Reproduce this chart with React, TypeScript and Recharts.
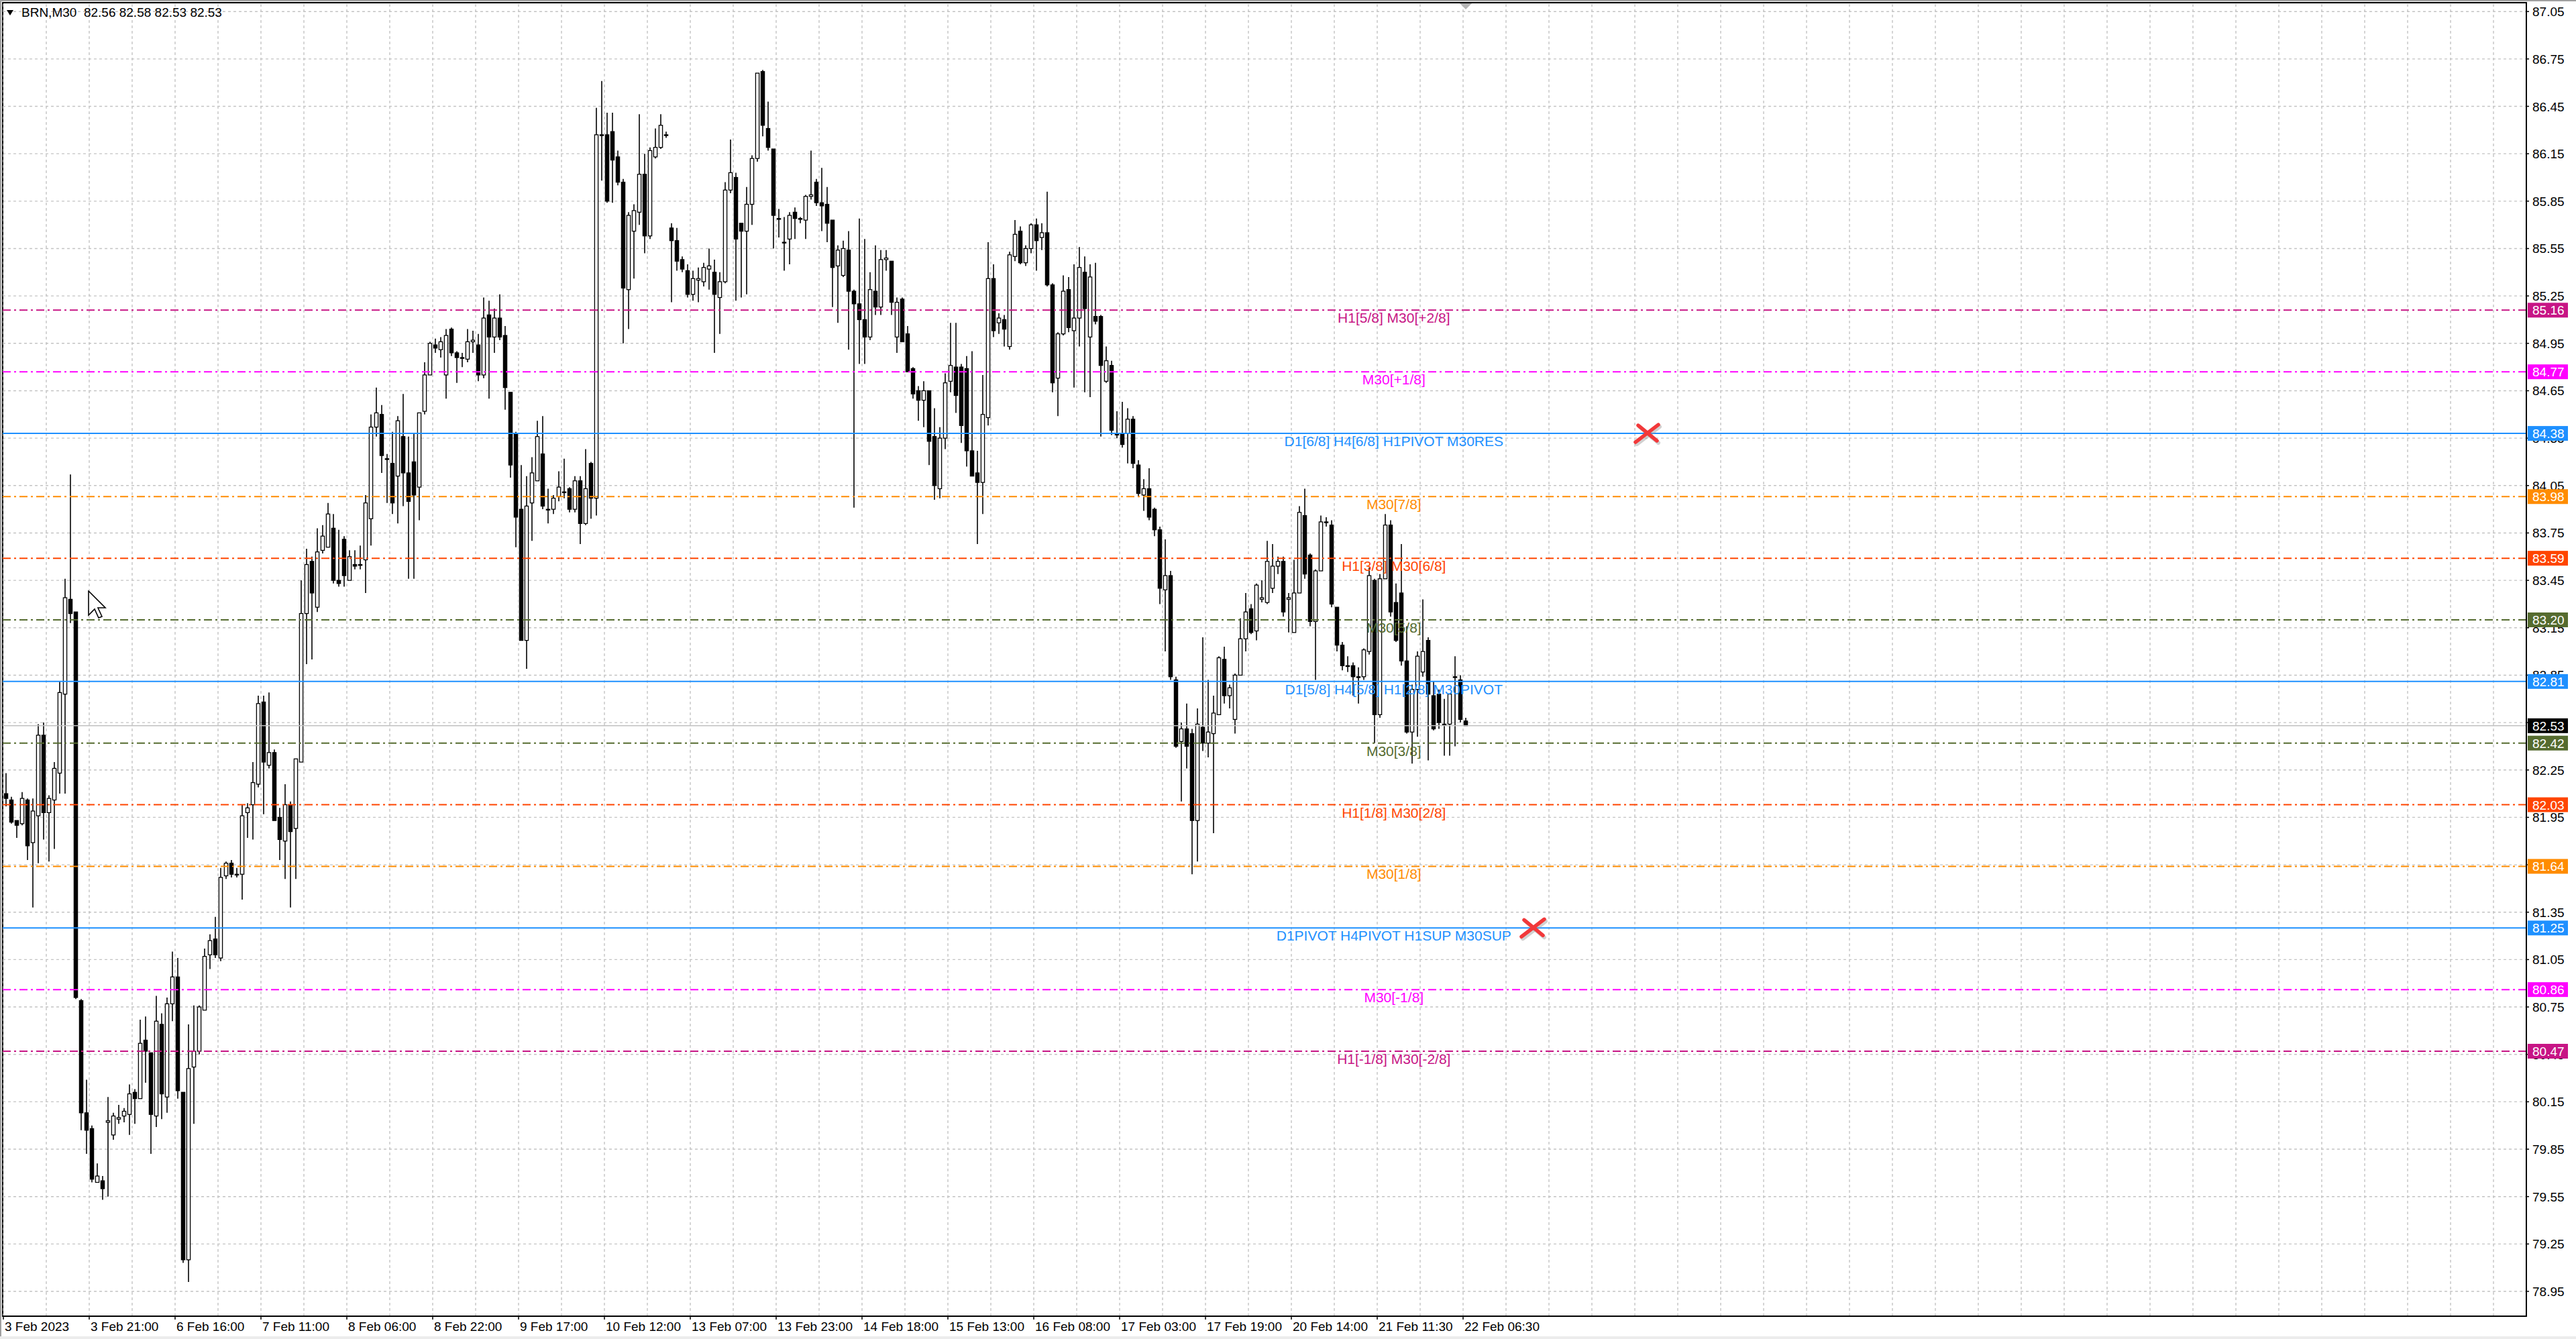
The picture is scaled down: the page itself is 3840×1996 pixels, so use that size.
import React from "react";
import {
  ComposedChart,
  Bar,
  XAxis,
  YAxis,
  CartesianGrid,
  ReferenceLine,
  ReferenceDot,
  ReferenceArea,
} from "recharts";

// BRN,M30 - one entry per pair of M30 candles
const opens = [
  82.10, 82.06, 81.93, 81.91, 82.06, 81.79, 81.96, 82.47, 81.98, 82.06,
  82.23, 82.73, 83.33, 83.25, 80.79, 80.08, 79.98, 79.64, 79.65, 80.02,
  79.94, 80.04, 80.06, 80.07, 80.21, 80.17, 80.54, 80.46, 80.06, 80.64,
  80.18, 80.77, 80.94, 80.21, 79.15, 80.37, 80.47, 80.73, 81.08, 81.18,
  81.06, 81.58, 81.66, 81.59, 81.59, 81.98, 82.03, 82.16, 82.68, 82.28,
  82.36, 81.95, 81.80, 82.03, 81.88, 82.30, 83.24, 83.57, 83.28, 83.64,
  83.66, 83.78, 83.45, 83.71, 83.45, 83.55, 83.55, 83.58, 83.84, 84.42,
  84.50, 84.22, 84.19, 84.11, 84.36, 84.13, 84.20, 84.04, 84.52, 84.75,
  84.94, 84.91, 84.75, 85.04, 84.89, 84.86, 84.85, 84.96, 84.94, 84.75,
  85.13, 84.99, 85.11, 85.00, 84.64, 84.38, 83.90, 83.07, 83.94, 84.08,
  84.25, 83.90, 83.90, 83.98, 84.01, 84.03, 83.90, 84.08, 83.81, 84.19,
  83.97, 86.27, 86.27, 86.29, 86.13, 85.97, 85.29, 85.66, 85.78, 86.02,
  85.63, 86.13, 86.19, 86.27, 85.68, 85.60, 85.48, 85.41, 85.26, 85.35,
  85.34, 85.42, 85.40, 85.24, 85.34, 85.92, 86.00, 85.71, 85.66, 85.83,
  86.12, 86.67, 86.31, 86.18, 85.74, 85.59, 85.61, 85.78, 85.74, 85.73,
  85.88, 85.97, 85.84, 85.83, 85.73, 85.44, 85.38, 85.54, 85.28, 85.20,
  85.10, 84.99, 85.28, 85.18, 85.48, 85.47, 84.99, 85.23, 85.01, 84.79,
  84.65, 84.59, 84.65, 84.36, 84.03, 84.35, 84.71, 84.80, 84.80, 84.79,
  84.27, 84.13, 84.07, 84.48, 85.36, 85.08, 85.10, 84.93, 85.50, 85.66,
  85.46, 85.55, 85.70, 85.62, 85.65, 85.32, 84.73, 85.01, 85.29, 85.03,
  85.11, 85.40, 84.99, 85.12, 85.12, 84.71, 84.81, 84.38, 84.38, 84.38,
  84.47, 84.18, 83.99, 84.03, 83.90, 83.77, 83.39, 83.48, 82.82, 82.43,
  82.51, 82.48, 81.93, 82.52, 82.42, 82.48, 82.60, 82.95, 82.72, 82.57,
  82.85, 83.08, 83.27, 83.13, 83.33, 83.31, 83.40, 83.54, 83.57, 83.33,
  83.12, 83.37, 83.86, 83.61, 83.19, 83.51, 83.82, 83.80, 83.28, 83.04,
  82.91, 82.91, 82.84, 82.84, 83.00, 83.45, 82.60, 83.46, 83.80, 83.31,
  83.37, 82.94, 82.49, 82.76, 82.87, 83.07, 82.72, 82.73, 82.54, 82.54,
  82.84, 82.82, 82.56,
];

const highs = [
  82.23, 82.08, 81.93, 82.11, 82.07, 82.07, 82.54, 82.55, 82.09, 82.30,
  82.81, 83.46, 84.12, 83.25, 80.80, 80.29, 80.00, 79.76, 79.68, 80.18,
  80.08, 80.13, 80.11, 80.26, 80.23, 80.67, 80.69, 80.46, 80.82, 80.71,
  80.81, 81.10, 81.06, 80.21, 80.64, 80.76, 80.76, 81.12, 81.21, 81.32,
  81.63, 81.67, 81.68, 81.63, 82.03, 82.04, 82.30, 82.72, 82.72, 82.74,
  82.38, 82.01, 82.16, 82.05, 82.32, 83.45, 83.65, 83.60, 83.78, 83.80,
  83.94, 83.87, 83.77, 83.73, 83.64, 83.64, 83.67, 83.99, 84.50, 84.67,
  84.56, 84.25, 84.39, 84.49, 84.63, 84.36, 84.38, 84.37, 84.83, 84.96,
  84.98, 84.99, 85.04, 85.05, 84.90, 84.89, 85.04, 85.03, 85.01, 85.24,
  85.22, 85.17, 85.26, 85.06, 84.64, 84.39, 84.18, 84.11, 84.23, 84.46,
  84.49, 84.03, 83.99, 84.14, 84.22, 84.04, 84.11, 84.11, 84.28, 84.20,
  86.44, 86.61, 86.41, 86.41, 86.17, 85.99, 85.78, 85.83, 86.40, 86.15,
  86.19, 86.31, 86.40, 86.29, 85.71, 85.68, 85.50, 85.45, 85.41, 85.43,
  85.46, 85.55, 85.48, 85.40, 85.97, 86.24, 86.03, 85.71, 85.94, 86.14,
  86.66, 86.68, 86.48, 86.18, 85.80, 85.75, 85.78, 85.81, 85.75, 85.89,
  86.17, 85.99, 86.06, 85.94, 85.73, 85.57, 85.60, 85.66, 85.29, 85.74,
  85.61, 85.40, 85.57, 85.54, 85.54, 85.47, 85.24, 85.24, 85.06, 84.80,
  84.68, 84.71, 84.65, 84.54, 84.42, 84.76, 85.08, 85.08, 84.82, 84.87,
  84.90, 84.27, 84.75, 85.59, 85.45, 85.14, 85.13, 85.53, 85.73, 85.69,
  85.57, 85.71, 85.74, 85.71, 85.91, 85.33, 85.02, 85.38, 85.37, 85.45,
  85.56, 85.50, 85.45, 85.46, 85.13, 84.93, 84.84, 84.52, 84.58, 84.54,
  84.49, 84.21, 84.09, 84.16, 83.91, 83.79, 83.71, 83.51, 82.84, 82.55,
  82.67, 82.51, 82.64, 83.09, 82.82, 82.72, 82.97, 83.03, 82.79, 82.86,
  83.21, 83.37, 83.30, 83.43, 83.45, 83.70, 83.68, 83.60, 83.60, 83.37,
  83.58, 83.92, 84.03, 83.62, 83.52, 83.86, 83.85, 83.83, 83.28, 83.06,
  82.97, 82.93, 82.90, 83.02, 83.53, 83.46, 83.49, 83.87, 83.83, 83.43,
  83.68, 83.16, 82.79, 83.00, 83.33, 83.09, 82.81, 82.76, 82.70, 82.72,
  82.97, 82.85, 82.58,
];

const lows = [
  82.02, 81.91, 81.82, 81.90, 81.68, 81.38, 81.66, 81.81, 81.67, 81.75,
  82.10, 82.10, 83.18, 80.80, 79.97, 79.82, 79.64, 79.64, 79.53, 79.55,
  79.91, 80.01, 80.02, 79.94, 80.01, 80.17, 80.27, 79.82, 79.99, 80.04,
  80.08, 80.66, 80.17, 79.13, 79.01, 80.01, 80.45, 80.73, 80.99, 81.06,
  81.04, 81.56, 81.57, 81.57, 81.43, 81.82, 81.81, 82.14, 81.97, 82.26,
  81.93, 81.68, 81.56, 81.38, 81.56, 82.30, 82.92, 82.95, 83.25, 83.62,
  83.66, 83.43, 83.41, 83.41, 83.45, 83.52, 83.52, 83.37, 83.67, 84.36,
  84.13, 83.94, 83.87, 83.81, 83.92, 83.46, 83.46, 83.83, 84.50, 84.75,
  84.89, 84.86, 84.60, 84.87, 84.70, 84.80, 84.83, 84.89, 84.71, 84.73,
  84.60, 84.89, 84.97, 84.53, 84.10, 83.66, 83.07, 82.89, 83.70, 84.08,
  83.90, 83.81, 83.87, 83.95, 83.97, 83.88, 83.88, 83.68, 83.80, 83.84,
  83.86, 85.98, 85.84, 85.84, 85.95, 84.95, 85.04, 85.36, 85.70, 85.52,
  85.61, 86.12, 86.18, 86.25, 85.21, 85.41, 85.40, 85.24, 85.22, 85.21,
  85.31, 85.29, 84.89, 85.01, 85.33, 85.90, 85.22, 85.24, 85.26, 85.70,
  86.10, 86.26, 86.17, 85.55, 85.62, 85.41, 85.45, 85.61, 85.71, 85.61,
  85.86, 85.82, 85.66, 85.59, 85.18, 85.08, 85.37, 84.91, 83.91, 84.82,
  84.82, 84.97, 85.13, 85.13, 85.41, 85.13, 84.89, 84.96, 84.77, 84.60,
  84.46, 84.42, 84.18, 83.96, 83.97, 84.28, 84.64, 84.51, 84.32, 84.17,
  84.11, 83.68, 83.87, 84.43, 84.99, 85.01, 84.93, 84.91, 85.47, 85.45,
  85.44, 85.52, 85.41, 85.54, 85.31, 84.64, 84.49, 85.00, 85.02, 84.67,
  84.93, 84.64, 84.61, 85.07, 84.36, 84.70, 84.37, 84.35, 84.29, 84.19,
  84.16, 83.98, 83.89, 83.83, 83.73, 83.30, 83.00, 82.82, 82.39, 82.05,
  82.26, 81.59, 81.67, 82.37, 82.33, 81.85, 82.60, 82.67, 82.64, 82.48,
  82.85, 83.00, 83.11, 83.07, 83.31, 83.30, 83.37, 83.49, 83.22, 83.12,
  83.12, 83.37, 83.46, 83.16, 82.82, 83.51, 83.79, 83.28, 83.00, 82.88,
  82.87, 82.72, 82.67, 82.82, 82.98, 82.42, 82.58, 83.46, 83.22, 83.06,
  82.91, 82.48, 82.29, 82.46, 82.84, 82.31, 82.50, 82.51, 82.34, 82.34,
  82.40, 82.55, 82.53,
];

const closes = [
  82.07, 81.92, 81.90, 82.07, 81.77, 81.99, 82.47, 81.98, 82.07, 82.26,
  82.74, 83.34, 83.24, 80.81, 80.08, 79.97, 79.66, 79.68, 79.60, 80.03,
  80.06, 80.05, 80.09, 80.20, 80.17, 80.52, 80.47, 80.07, 80.66, 80.20,
  80.77, 80.94, 80.22, 79.15, 80.36, 80.47, 80.75, 81.07, 81.17, 81.08,
  81.57, 81.66, 81.59, 81.59, 81.96, 82.01, 82.17, 82.67, 82.30, 82.36,
  81.93, 81.81, 82.03, 81.86, 82.32, 83.24, 83.55, 83.37, 83.63, 83.73,
  83.87, 83.45, 83.43, 83.48, 83.60, 83.54, 83.55, 83.94, 84.42, 84.51,
  84.24, 84.22, 83.94, 84.46, 84.13, 83.95, 83.99, 84.51, 84.75, 84.95,
  84.92, 84.96, 85.00, 84.89, 84.86, 84.86, 84.96, 84.97, 84.75, 85.11,
  84.99, 85.11, 84.99, 84.67, 84.18, 83.85, 83.07, 83.92, 84.13, 84.36,
  83.92, 83.90, 83.97, 84.04, 84.01, 83.90, 84.08, 83.81, 84.03, 83.97,
  86.27, 86.27, 85.85, 86.11, 85.97, 85.30, 85.76, 85.79, 86.02, 85.63,
  86.17, 86.19, 86.33, 86.27, 85.60, 85.47, 85.42, 85.26, 85.36, 85.36,
  85.43, 85.44, 85.26, 85.34, 85.92, 86.03, 85.61, 85.66, 85.83, 86.12,
  86.66, 86.33, 86.19, 85.76, 85.74, 85.59, 85.76, 85.74, 85.74, 85.88,
  85.89, 85.84, 85.82, 85.71, 85.43, 85.54, 85.55, 85.28, 85.20, 85.10,
  84.99, 85.29, 85.18, 85.48, 85.49, 85.21, 85.21, 84.96, 84.77, 84.63,
  84.59, 84.65, 84.33, 84.05, 84.35, 84.70, 84.81, 84.62, 84.43, 84.27,
  84.11, 84.07, 84.50, 85.36, 85.03, 85.11, 85.04, 85.51, 85.64, 85.46,
  85.55, 85.70, 85.60, 85.65, 85.32, 84.70, 85.01, 85.28, 85.05, 85.11,
  85.43, 85.17, 85.37, 85.09, 84.81, 84.84, 84.40, 84.37, 84.31, 84.47,
  84.19, 84.00, 84.03, 83.85, 83.77, 83.40, 83.48, 82.84, 82.40, 82.51,
  82.40, 81.93, 82.54, 82.42, 82.49, 82.61, 82.96, 82.72, 82.77, 82.85,
  83.08, 83.25, 83.12, 83.42, 83.34, 83.57, 83.54, 83.57, 83.25, 83.34,
  83.37, 83.88, 83.49, 83.19, 83.51, 83.82, 83.82, 83.30, 83.04, 82.91,
  82.91, 82.84, 82.84, 83.01, 83.48, 82.60, 83.46, 83.80, 83.25, 83.07,
  82.94, 82.49, 82.76, 82.97, 83.00, 82.73, 82.51, 82.55, 82.54, 82.73,
  82.84, 82.57, 82.53,
];

const timeLabels = [
  "3 Feb 2023", "3 Feb 21:00", "6 Feb 16:00", "7 Feb 11:00", "8 Feb 06:00",
  "8 Feb 22:00", "9 Feb 17:00", "10 Feb 12:00", "13 Feb 07:00", "13 Feb 23:00",
  "14 Feb 18:00", "15 Feb 13:00", "16 Feb 08:00", "17 Feb 03:00", "17 Feb 19:00",
  "20 Feb 14:00", "21 Feb 11:30", "22 Feb 06:30",
];

const priceTicks = [
  87.05, 86.75, 86.45, 86.15, 85.85, 85.55, 85.25, 84.95, 84.65, 84.35,
  84.05, 83.75, 83.45, 83.15, 82.85, 82.55, 82.25, 81.95, 81.65, 81.35,
  81.05, 80.75, 80.45, 80.15, 79.85, 79.55, 79.25, 78.95,
];

const levelPrices = [85.16, 84.77, 84.38, 83.98, 83.59, 83.2, 82.81, 82.42, 82.03, 81.64, 81.25, 80.86, 80.47];
const levelNames = [
  "H1[5/8] M30[+2/8]",
  "M30[+1/8]",
  "D1[6/8] H4[6/8] H1PIVOT M30RES",
  "M30[7/8]",
  "H1[3/8] M30[6/8]",
  "M30[5/8]",
  "D1[5/8] H4[5/8] H1[2/8] M30PIVOT",
  "M30[3/8]",
  "H1[1/8] M30[2/8]",
  "M30[1/8]",
  "D1PIVOT H4PIVOT H1SUP M30SUP",
  "M30[-1/8]",
  "H1[-1/8] M30[-2/8]",
];
const levelColors = [
  "#C71585", "#FF00FF", "#1E90FF", "#FF8C00", "#FF4500", "#556B2F", "#1E90FF",
  "#556B2F", "#FF4500", "#FF8C00", "#1E90FF", "#FF00FF", "#C71585",
];
const levelSolid = [false, false, true, false, false, false, true, false, false, false, true, false, false];

const currentPrice = 82.53;
const crossBars = [305.75, 284.5];
const crossPrices = [84.38, 81.25];

const X_MIN = -0.625;
const X_MAX = 469.625;
const Y_MIN = 78.793;
const Y_MAX = 87.106;
const LABEL_BAR = 258.6;
const UI_FONT = '"Liberation Sans", Arial, sans-serif';
const MARGIN = { top: 4, right: 0, bottom: 0, left: 4 };

const rows = opens.map((o, i) => ({
  i,
  o,
  h: highs[i],
  l: lows[i],
  c: closes[i],
  range: [lows[i], highs[i]],
}));

const gridBars: number[] = [];
for (let k = 0; k * 8 - 0.5 < X_MAX; k++) gridBars.push(k * 8 - 0.5);
const timeTicks = timeLabels.map((_, k) => k * 16 - 0.5);

function Candle(props: any) {
  const { x, y, width, height, payload } = props;
  if (!payload || x == null) return null;
  const { o, h, l, c } = payload;
  const top = height >= 0 ? y : y + height;
  const span = Math.abs(height);
  const k = h > l ? span / (h - l) : 0;
  const cx = x + width / 2;
  const yo = top + (h - o) * k;
  const yc = top + (h - c) * k;
  const bodyTop = Math.min(yo, yc);
  const bodyH = Math.max(Math.abs(yo - yc), 1.2);
  return (
    <g>
      <line x1={cx} x2={cx} y1={top} y2={top + span} stroke="#000" strokeWidth={1.6} />
      <rect
        x={cx - 2.6}
        y={bodyTop}
        width={5.2}
        height={bodyH}
        fill={c > o ? "#fff" : "#000"}
        stroke="#000"
        strokeWidth={1.3}
      />
    </g>
  );
}

const PriceTick = (props: any) => {
  const { x, y, payload } = props;
  return (
    <text x={x} y={y} dy={7} fontFamily={UI_FONT} fontSize={19} fill="#000" textAnchor="start">
      {Number(payload.value).toFixed(2)}
    </text>
  );
};

const TimeTick = (props: any) => {
  const { x, y, payload } = props;
  const label = timeLabels[Math.round((payload.value + 0.5) / 16)];
  return (
    <text x={x + 2} y={y} dy={16} fontFamily={UI_FONT} fontSize={19} fill="#000" textAnchor="start">
      {label}
    </text>
  );
};

const makeTag = (bg: string, value: number) => (props: any) => {
  const { cx, cy } = props;
  return (
    <g>
      <rect x={cx + 2} y={cy - 11} width={60} height={22} fill={bg} />
      <text x={cx + 9} y={cy + 7} fontFamily={UI_FONT} fontSize={19} fill="#fff">
        {value.toFixed(2)}
      </text>
    </g>
  );
};

const makeLevelLabel = (color: string, text: string) => (props: any) => {
  const { cx, cy } = props;
  return (
    <text x={cx} y={cy + 19} textAnchor="middle" fontFamily={UI_FONT} fontSize={21} fill={color}>
      {text}
    </text>
  );
};

const Cross = (props: any) => {
  const { cx, cy } = props;
  return (
    <g strokeLinecap="round">
      <g stroke="#9a9a9a" strokeOpacity={0.45} strokeWidth={6}>
        <line x1={cx - 15} y1={cy + 16} x2={cx + 19} y2={cy - 10} />
        <line x1={cx - 11} y1={cy - 10} x2={cx + 17} y2={cy + 14} />
      </g>
      <g stroke="#f2383a" strokeWidth={5.5}>
        <line x1={cx - 17} y1={cy + 13} x2={cx + 17} y2={cy - 13} />
        <line x1={cx - 13} y1={cy - 12} x2={cx + 15} y2={cy + 11} />
      </g>
    </g>
  );
};

const ShiftMark = (props: any) => {
  const { cx, cy } = props;
  return <polygon points={`${cx - 9},${cy + 1} ${cx + 9},${cy + 1} ${cx},${cy + 10}`} fill="#b4b4b4" />;
};

// hidden axes that give the overlay chart the same scales as the main one
const hiddenAxes = [
  <XAxis key="hx" type="number" dataKey="i" domain={[X_MIN, X_MAX]} allowDataOverflow height={34} tick={false} tickLine={false} axisLine={false} />,
  <YAxis key="hy" orientation="right" type="number" domain={[Y_MIN, Y_MAX]} allowDataOverflow width={74} tick={false} tickLine={false} axisLine={false} />,
];

export default function App() {
  return (
    <div style={{ position: "absolute", left: 0, top: 0, width: 3840, height: 1996, background: "#fff", overflow: "hidden" }}>
      <ComposedChart width={3840} height={1996} data={rows} margin={MARGIN}>
        <CartesianGrid horizontal vertical={false} stroke="#c4c4c4" strokeDasharray="4 4" strokeWidth={1.4} />
        {gridBars.map((g) => (
          <ReferenceLine key={"g" + g} x={g} stroke="#c4c4c4" strokeDasharray="4 4" strokeWidth={1.4} />
        ))}
        <XAxis
          type="number"
          dataKey="i"
          domain={[X_MIN, X_MAX]}
          allowDataOverflow
          ticks={timeTicks}
          interval={0}
          height={34}
          tickSize={5}
          tickMargin={1}
          tick={<TimeTick />}
          tickLine={{ stroke: "#000", strokeWidth: 1.5 }}
          axisLine={{ stroke: "#000", strokeWidth: 2 }}
        />
        <YAxis
          orientation="right"
          type="number"
          domain={[Y_MIN, Y_MAX]}
          allowDataOverflow
          ticks={priceTicks}
          interval={0}
          width={74}
          tickSize={4}
          tickMargin={5}
          tickLine={{ stroke: "#000", strokeWidth: 1.5 }}
          tick={<PriceTick />}
          axisLine={{ stroke: "#000", strokeWidth: 2 }}
        />
        <ReferenceArea x1={X_MIN} x2={X_MAX} y1={Y_MIN} y2={Y_MAX} fill="none" stroke="#000" strokeWidth={2} ifOverflow="visible" />
        {levelPrices.map((p, k) => (
          <ReferenceLine
            key={"l" + k}
            y={p}
            stroke={levelColors[k]}
            strokeWidth={2}
            strokeDasharray={levelSolid[k] ? undefined : "12 5 3 5"}
          />
        ))}
        <ReferenceLine y={currentPrice} stroke="#c0c0c0" strokeWidth={1.6} />
        <Bar dataKey="range" barSize={6} shape={Candle} isAnimationActive={false} />
        {levelPrices.map((p, k) => (
          <ReferenceDot
            key={"n" + k}
            x={LABEL_BAR}
            y={p}
            r={0}
            ifOverflow="visible"
            shape={makeLevelLabel(levelColors[k], levelNames[k])}
          />
        ))}
        {crossBars.map((b, k) => (
          <ReferenceDot key={"x" + k} x={b} y={crossPrices[k]} r={0} ifOverflow="visible" shape={Cross} />
        ))}
        <ReferenceDot x={rows.length - 1} y={Y_MAX} r={0} ifOverflow="visible" shape={ShiftMark} />
      </ComposedChart>

      {/* price tags drawn above the axis labels */}
      <div style={{ position: "absolute", left: 0, top: 0, pointerEvents: "none" }}>
        <ComposedChart width={3840} height={1996} data={rows} margin={MARGIN}>
          {hiddenAxes}
          {levelPrices.map((p, k) => (
            <ReferenceDot key={"t" + k} x={X_MAX} y={p} r={0} ifOverflow="visible" shape={makeTag(levelColors[k], p)} />
          ))}
          <ReferenceDot x={X_MAX} y={currentPrice} r={0} ifOverflow="visible" shape={makeTag("#000", currentPrice)} />
        </ComposedChart>
      </div>

      <div style={{ position: "absolute", left: 10, top: 15, width: 0, height: 0, borderLeft: "5px solid transparent", borderRight: "5px solid transparent", borderTop: "8px solid #000" }} />
      <div style={{ position: "absolute", left: 32, top: 9, fontFamily: UI_FONT, fontSize: 19, lineHeight: "19px", color: "#000", whiteSpace: "pre" }}>
        {"BRN,M30  82.56 82.58 82.53 82.53"}
      </div>
      <svg style={{ position: "absolute", left: 131, top: 880 }} width={30} height={44}>
        <polygon
          points="1,1 1,37 10,28 16,41 21,39 15,26 26,26"
          fill="#fff"
          stroke="#000"
          strokeWidth={1.6}
          strokeLinejoin="miter"
        />
      </svg>
      <div style={{ position: "absolute", left: 0, top: 0, width: 3840, height: 2, background: "#a0a0a0" }} />
      <div style={{ position: "absolute", left: 0, top: 0, width: 2, height: 1996, background: "#a0a0a0" }} />
      <div style={{ position: "absolute", left: 0, top: 1992, width: 3840, height: 4, background: "#ececec" }} />
    </div>
  );
}
